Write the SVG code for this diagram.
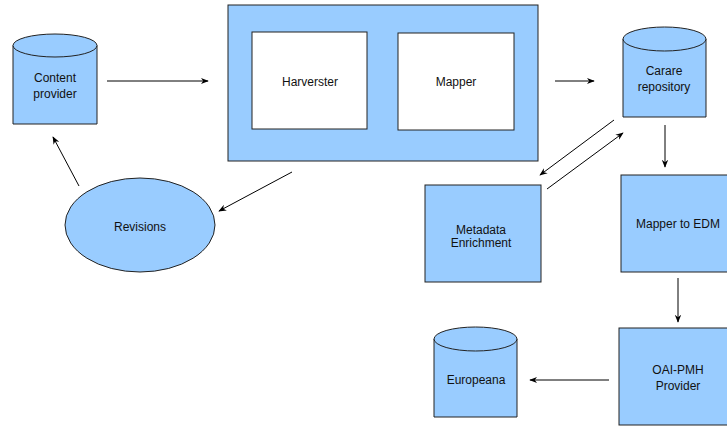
<svg xmlns="http://www.w3.org/2000/svg" width="727" height="427" viewBox="0 0 727 427">
<defs>
<style>
.n{fill:#99ccff;stroke:#222;stroke-width:1}
.w{fill:#fff;stroke:#222;stroke-width:1}
.t{font-family:"Liberation Sans",Arial,sans-serif;font-size:12px;fill:#111;text-anchor:middle}
.c{fill:none;stroke:#000;stroke-width:1;marker-end:url(#ah)}
</style>
<marker id="ah" viewBox="0 0 10 10" refX="9" refY="5" markerWidth="8" markerHeight="8" markerUnits="userSpaceOnUse" orient="auto">
<path d="M0,1 L10,5 L0,9 L3,5 Z" fill="#000"/>
</marker>
</defs>
<rect width="727" height="427" fill="#fff"/>
<g id="content-provider">
<path class="n" d="M13,45.5 L13,124 L97,124 L97,45.5"/>
<ellipse class="n" cx="55" cy="45.5" rx="42" ry="11.5"/>
<text class="t" x="55" y="82">Content</text>
<text class="t" x="55" y="98">provider</text>
</g>
<g id="container">
<rect class="n" x="228" y="5" width="310" height="156"/>
</g>
<g id="harvester">
<rect class="w" x="252" y="32" width="115" height="97"/>
<text class="t" x="310" y="86">Harverster</text>
</g>
<g id="mapper">
<rect class="w" x="398" y="33" width="116" height="97"/>
<text class="t" x="456" y="86">Mapper</text>
</g>
<g id="revisions">
<ellipse class="n" cx="140" cy="225" rx="75" ry="47"/>
<text class="t" x="140" y="231">Revisions</text>
</g>
<g id="carare-repository">
<path class="n" d="M623,39 L623,117 L706,117 L706,39"/>
<ellipse class="n" cx="664.5" cy="39" rx="41.5" ry="12"/>
<text class="t" x="664" y="75">Carare</text>
<text class="t" x="664" y="91">repository</text>
</g>
<g id="metadata-enrichment">
<rect class="n" x="425" y="185" width="116" height="97"/>
<text class="t" x="481" y="234">Metadata</text>
<text class="t" x="481" y="247">Enrichment</text>
</g>
<g id="mapper-to-edm">
<rect class="n" x="621" y="175" width="114" height="97"/>
<text class="t" x="678" y="228">Mapper to EDM</text>
</g>
<g id="oai-pmh-provider">
<rect class="n" x="619" y="328" width="116" height="97"/>
<text class="t" x="678" y="374">OAI-PMH</text>
<text class="t" x="678" y="390">Provider</text>
</g>
<g id="europeana">
<path class="n" d="M434,339 L434,417 L517,417 L517,339"/>
<ellipse class="n" cx="475.5" cy="339" rx="41.5" ry="12"/>
<text class="t" x="476" y="384">Europeana</text>
</g>
<g id="connectors">
<line class="c" x1="107" y1="81" x2="208" y2="81"/>
<line class="c" x1="79" y1="186" x2="53" y2="137"/>
<line class="c" x1="292" y1="172" x2="219" y2="211"/>
<line class="c" x1="555" y1="81" x2="594" y2="81"/>
<line class="c" x1="665" y1="125" x2="665" y2="167"/>
<line class="c" x1="614" y1="120" x2="540" y2="175"/>
<line class="c" x1="547" y1="189" x2="623" y2="133"/>
<line class="c" x1="678" y1="278" x2="678" y2="322"/>
<line class="c" x1="609" y1="380" x2="530" y2="380"/>
</g>
</svg>
